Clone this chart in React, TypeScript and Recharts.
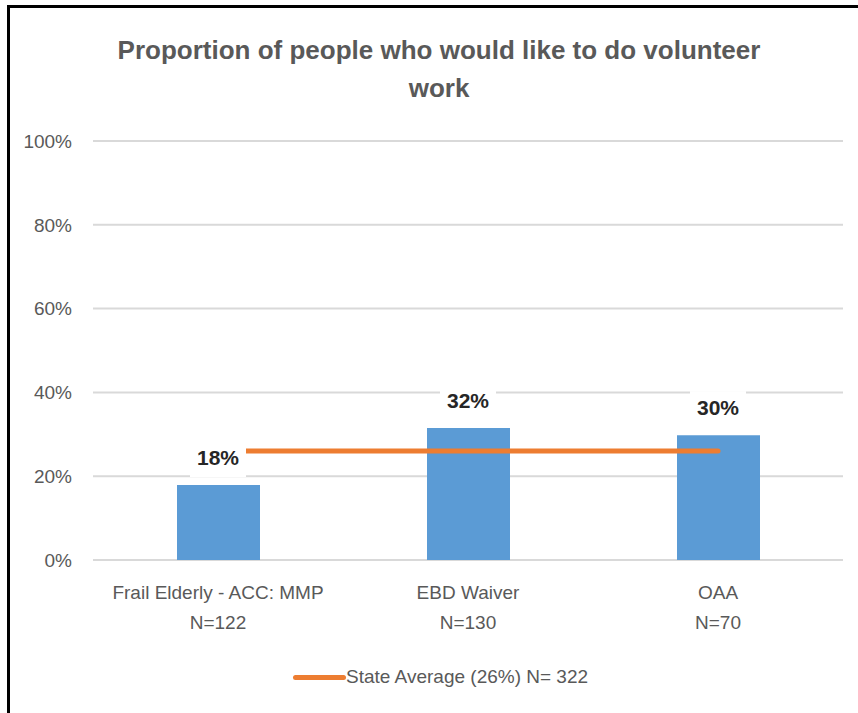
import React from "react";
import {
  ComposedChart,
  Bar,
  Line,
  XAxis,
  YAxis,
  CartesianGrid,
} from "recharts";

const categories = ["Frail Elderly - ACC: MMP", "EBD Waiver", "OAA"];
const sampleSizes = ["N=122", "N=130", "N=70"];
const values = [17.9, 31.5, 29.8];
const stateAverage = [26, 26, 26];
const yTicks = [0, 20, 40, 60, 80, 100];

const FONT = '"Liberation Sans", Arial, sans-serif';
const GRAY = "#595959";

const data = categories.map((name, i) => ({
  name,
  n: sampleSizes[i],
  value: values[i],
  avg: stateAverage[i],
}));

const CategoryTick = (props: any) => {
  const { x, y, payload, index } = props;
  return (
    <g>
      <text x={x} y={y + 39} textAnchor="middle" fill={GRAY} fontSize={19} fontFamily={FONT}>
        {payload.value}
      </text>
      <text x={x} y={y + 69} textAnchor="middle" fill={GRAY} fontSize={19} fontFamily={FONT}>
        {sampleSizes[index]}
      </text>
    </g>
  );
};

// white box behind the label, drawn above the average line
const ValueLabel = (props: any) => {
  const { x, y, value } = props;
  return (
    <g>
      <rect x={x - 28} y={y - 44} width={56} height={36} fill="#fff" />
      <text
        x={x}
        y={y - 20}
        textAnchor="middle"
        fill="#262626"
        fontSize={21}
        fontWeight="bold"
        fontFamily={FONT}
      >
        {Math.round(value)}%
      </text>
    </g>
  );
};

export default function App() {
  return (
    <div
      style={{
        position: "absolute",
        left: 0,
        top: 0,
        width: 858,
        height: 713,
        background: "#fff",
        overflow: "hidden",
      }}
    >
      <div
        style={{
          position: "absolute",
          left: 7,
          top: 5,
          right: 0,
          bottom: 0,
          borderLeft: "3px solid #000",
          borderTop: "3px solid #000",
        }}
      />
      <div
        style={{
          position: "absolute",
          left: 0,
          top: 31,
          width: 878,
          textAlign: "center",
          fontFamily: FONT,
          fontSize: 26,
          fontWeight: "bold",
          lineHeight: "38px",
          color: GRAY,
        }}
      >
        Proportion of people who would like to do volunteer
        <br />
        work
      </div>
      <div style={{ position: "absolute", left: 0, top: 0 }}>
        <ComposedChart
          width={858}
          height={713}
          data={data}
          margin={{ top: 141, right: 15, left: 0, bottom: 73 }}
        >
          <CartesianGrid vertical={false} stroke="#D9D9D9" strokeWidth={2} />
          <XAxis
            dataKey="name"
            axisLine={false}
            tickLine={false}
            tickSize={0}
            tickMargin={0}
            height={80}
            interval={0}
            tick={<CategoryTick />}
          />
          <YAxis
            domain={[0, 100]}
            ticks={yTicks}
            width={93}
            axisLine={false}
            tickLine={false}
            tickSize={0}
            tickMargin={21}
            tickFormatter={(v) => `${v}%`}
            tick={{ fill: GRAY, fontSize: 19, fontFamily: FONT }}
          />
          <Bar dataKey="value" fill="#5B9BD5" barSize={83} isAnimationActive={false} />
          <Line
            dataKey="avg"
            stroke="#ED7D31"
            strokeWidth={5}
            strokeLinecap="round"
            dot={false}
            isAnimationActive={false}
          />
          <Line
            dataKey="value"
            stroke="none"
            dot={false}
            activeDot={false}
            label={<ValueLabel />}
            isAnimationActive={false}
          />
        </ComposedChart>
      </div>
      <div
        style={{
          position: "absolute",
          left: 293,
          top: 664,
          display: "flex",
          alignItems: "center",
          height: 26,
          fontFamily: FONT,
          fontSize: 19,
          color: GRAY,
        }}
      >
        <span
          style={{
            display: "inline-block",
            width: 53,
            height: 5,
            borderRadius: 3,
            background: "#ED7D31",
          }}
        />
        <span>State Average (26%) N= 322</span>
      </div>
    </div>
  );
}
